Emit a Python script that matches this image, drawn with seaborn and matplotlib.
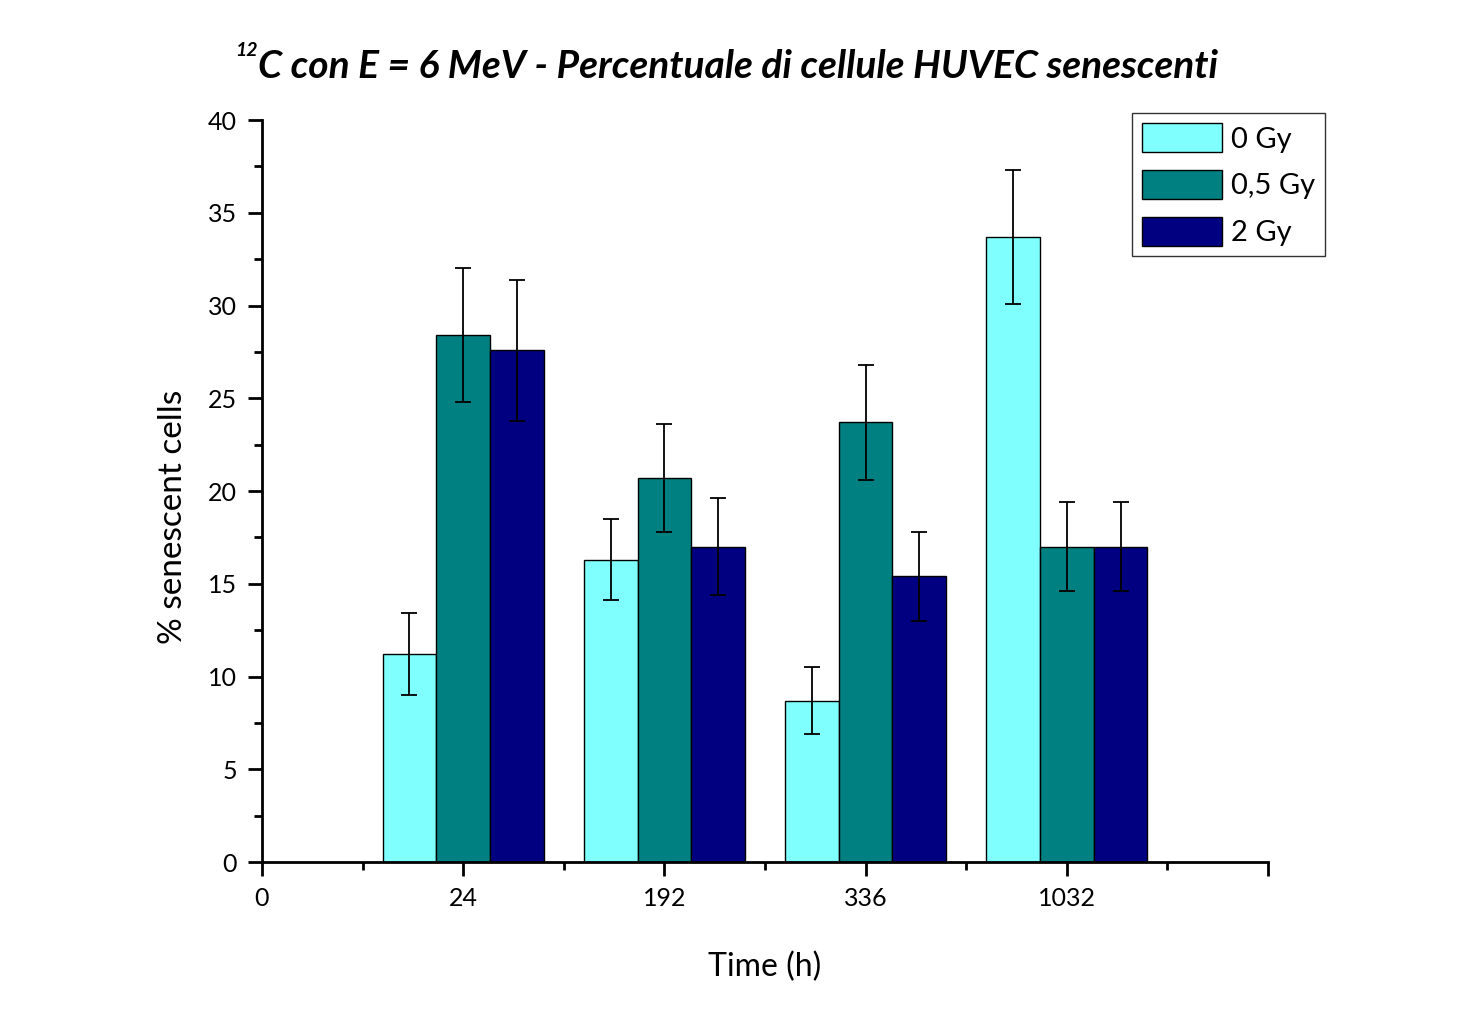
import numpy as np
import pandas as pd
import seaborn as sns
import matplotlib.pyplot as plt
from matplotlib.ticker import MultipleLocator

times = ["24", "192", "336", "1032"]
doses = ["0 Gy", "0,5 Gy", "2 Gy"]
val_0 = [11.2, 16.3, 8.7, 33.7]
val_05 = [28.4, 20.7, 23.7, 17.0]
val_2 = [27.6, 17.0, 15.4, 17.0]
err_0 = [2.2, 2.2, 1.8, 3.6]
err_05 = [3.6, 2.9, 3.1, 2.4]
err_2 = [3.8, 2.6, 2.4, 2.4]
colors = ["#80FFFF", "#008080", "#000080"]

df = pd.DataFrame({
    "time": times * 3,
    "dose": np.repeat(doses, len(times)),
    "value": val_0 + val_05 + val_2,
    "err": err_0 + err_05 + err_2,
})

sns.set_style("ticks")
plt.rcParams["font.family"] = ["Lato", "DejaVu Sans"]
for k in ["text.color", "axes.labelcolor", "xtick.color", "ytick.color", "axes.edgecolor"]:
    plt.rcParams[k] = "black"

fig = plt.figure(figsize=(14.74, 10.34), dpi=100)
ax = fig.add_axes([0.1777, 0.1663, 0.6826, 0.7176])

sns.barplot(data=df, x="time", y="value", hue="dose", order=times, hue_order=doses,
            palette=colors, saturation=1, width=0.8, edgecolor="black", linewidth=1,
            errorbar=None, ax=ax, legend=True)

# error bars on top of each bar
for patch_group, dose in zip(ax.containers, doses):
    sub = df[df["dose"] == dose].set_index("time").loc[times]
    xs = [p.get_x() + p.get_width() / 2 for p in patch_group]
    ax.errorbar(xs, sub["value"], yerr=sub["err"], fmt="none", ecolor="black",
                elinewidth=1.3, capsize=6, capthick=1.3)

ax.set_xlim(-1, 4)
ax.set_ylim(0, 40)
ax.set_xticks(range(-1, 5))
ax.set_xticklabels(["0"] + times + [""])
ax.xaxis.set_minor_locator(MultipleLocator(0.5))
ax.yaxis.set_major_locator(MultipleLocator(5))
ax.yaxis.set_minor_locator(MultipleLocator(2.5))
ax.tick_params(which="major", direction="out", length=10, width=2, labelsize=18, pad=8)
ax.tick_params(which="minor", direction="out", length=6, width=2)
for s in ["left", "bottom"]:
    ax.spines[s].set_linewidth(2)
sns.despine(ax=ax)

ax.set_xlabel("Time (h)", fontsize=23, labelpad=30)
ax.set_ylabel("% senescent cells", fontsize=24, labelpad=14)
ax.yaxis.label.set_y(0.465)

title = ax.set_title("C con E = 6 MeV - Percentuale di cellule HUVEC senescenti",
                     fontsize=28, fontweight="bold", fontstyle="italic", pad=30)
title.set_x(0.473)
ax.annotate("12", xy=(0, 0.72), xycoords=title, ha="right", va="bottom",
            fontsize=14, fontweight="bold", fontstyle="italic")

leg = ax.legend(loc="upper right", bbox_to_anchor=(1325 / 1474, 1 - 113 / 1034),
                bbox_transform=fig.transFigure, fontsize=21, frameon=True,
                fancybox=False, edgecolor="black", handlelength=2.75,
                handleheight=1.15, handletextpad=0.3, labelspacing=0.6,
                borderpad=0.35, borderaxespad=0)
leg.get_frame().set_linewidth(1)

fig.savefig("out.png", dpi=100)
